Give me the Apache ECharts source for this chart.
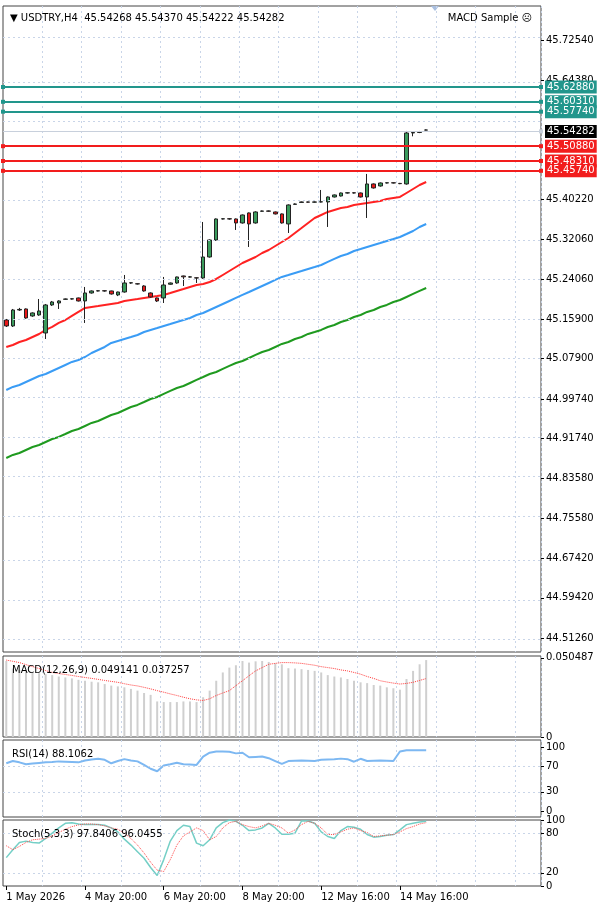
<!DOCTYPE html>
<html>
<head>
<meta charset="utf-8">
<script src="https://cdn.jsdelivr.net/npm/echarts@6/dist/echarts.min.js"></script>
<style>
  html, body { margin: 0; padding: 0; background: #fff; }
  #container { width: 600px; height: 902px; }
</style>
</head>
<body>
<div id="container"></div>
<script>
// candles: [open, close, low, high]
var candles = [
  [45.1576, 45.1454, 45.1434, 45.1596], [45.1454, 45.1778, 45.1434, 45.1799], [45.1778, 45.1790, 45.1760, 45.1820],
  [45.1799, 45.1616, 45.1600, 45.1810], [45.1657, 45.1718, 45.1640, 45.1730], [45.1677, 45.1758, 45.1660, 45.2001],
  [45.1312, 45.1880, 45.1190, 45.1900], [45.1880, 45.1941, 45.1860, 45.1961], [45.1920, 45.1961, 45.1799, 45.1975],
  [45.1995, 45.2001, 45.1985, 45.2010], [45.2001, 45.2005, 45.1990, 45.2015], [45.2022, 45.1961, 45.1950, 45.2030],
  [45.1961, 45.2123, 45.1515, 45.2245], [45.2123, 45.2164, 45.2110, 45.2175], [45.2164, 45.2168, 45.2155, 45.2178],
  [45.2168, 45.2164, 45.2150, 45.2178], [45.2164, 45.2103, 45.2090, 45.2170], [45.2083, 45.2143, 45.2060, 45.2150],
  [45.2143, 45.2326, 45.2130, 45.2488], [45.2326, 45.2330, 45.2310, 45.2340], [45.2310, 45.2306, 45.2295, 45.2320],
  [45.2265, 45.2164, 45.2150, 45.2280], [45.2123, 45.2042, 45.2030, 45.2135], [45.2022, 45.1961, 45.1941, 45.2030],
  [45.2022, 45.2285, 45.1920, 45.2448], [45.2300, 45.2326, 45.2290, 45.2335], [45.2326, 45.2448, 45.2310, 45.2455],
  [45.2468, 45.2450, 45.2265, 45.2475], [45.2445, 45.2450, 45.2435, 45.2465], [45.2430, 45.2427, 45.2326, 45.2440],
  [45.2427, 45.2853, 45.2410, 45.3563], [45.2853, 45.3198, 45.2840, 45.3210], [45.3198, 45.3624, 45.3180, 45.3635],
  [45.3624, 45.3628, 45.3615, 45.3635], [45.3628, 45.3624, 45.3610, 45.3640], [45.3624, 45.3543, 45.3401, 45.3635],
  [45.3543, 45.3705, 45.3530, 45.3715], [45.3746, 45.3523, 45.3056, 45.3755], [45.3543, 45.3766, 45.3530, 45.3780],
  [45.3780, 45.3786, 45.3770, 45.3795], [45.3786, 45.3782, 45.3770, 45.3795], [45.3766, 45.3726, 45.3715, 45.3775],
  [45.3726, 45.3543, 45.3530, 45.3735], [45.3523, 45.3908, 45.3340, 45.3920], [45.3920, 45.3928, 45.3915, 45.3940],
  [45.3960, 45.3969, 45.3955, 45.3978], [45.3969, 45.3965, 45.3955, 45.3975], [45.3965, 45.3969, 45.3955, 45.3978],
  [45.3969, 45.3972, 45.3960, 45.4212], [45.3969, 45.4070, 45.3462, 45.4080], [45.4070, 45.4111, 45.4060, 45.4120],
  [45.4090, 45.4151, 45.4080, 45.4160], [45.4151, 45.4155, 45.4140, 45.4165], [45.4155, 45.4151, 45.4140, 45.4165],
  [45.4151, 45.4070, 45.4060, 45.4160], [45.4070, 45.4334, 45.3644, 45.4537], [45.4334, 45.4253, 45.4240, 45.4345],
  [45.4293, 45.4354, 45.4280, 45.4365], [45.4354, 45.4358, 45.4345, 45.4365], [45.4358, 45.4354, 45.4345, 45.4365],
  [45.4345, 45.4340, 45.4330, 45.4355], [45.4334, 45.5368, 45.4320, 45.5409], [45.5368, 45.5378, 45.5300, 45.5400],
  [45.5378, 45.5395, 45.5365, 45.5409], [45.54268, 45.54282, 45.54222, 45.54370]
];

var maRed = [45.1028, 45.1068, 45.1129, 45.1169, 45.1230, 45.1291, 45.1373, 45.1434, 45.1515, 45.1575,
  45.1657, 45.1738, 45.1819, 45.1839, 45.1859, 45.1880, 45.1900, 45.1920, 45.1961, 45.1981,
  45.2001, 45.2022, 45.2042, 45.2062, 45.2083, 45.2123, 45.2164, 45.2204, 45.2245, 45.2285,
  45.2305, 45.2346, 45.2407, 45.2488, 45.2569, 45.2650, 45.2731, 45.2792, 45.2853, 45.2934,
  45.2995, 45.3076, 45.3157, 45.3238, 45.3340, 45.3441, 45.3543, 45.3644, 45.3705, 45.3766,
  45.3807, 45.3847, 45.3867, 45.3908, 45.3928, 45.3948, 45.3969, 45.3989, 45.4029, 45.4050,
  45.4070, 45.4151, 45.4232, 45.4313, 45.4374];

var maBlue = [45.0156, 45.0217, 45.0257, 45.0318, 45.0379, 45.0440, 45.0480, 45.0541, 45.0602, 45.0663,
  45.0724, 45.0764, 45.0825, 45.0906, 45.0967, 45.1028, 45.1109, 45.1150, 45.1190, 45.1230,
  45.1271, 45.1332, 45.1373, 45.1413, 45.1454, 45.1494, 45.1535, 45.1575, 45.1616, 45.1677,
  45.1717, 45.1778, 45.1839, 45.1900, 45.1961, 45.2022, 45.2083, 45.2143, 45.2204, 45.2265,
  45.2326, 45.2387, 45.2448, 45.2488, 45.2529, 45.2569, 45.2610, 45.2650, 45.2691, 45.2752,
  45.2813, 45.2873, 45.2914, 45.2975, 45.3015, 45.3056, 45.3097, 45.3137, 45.3178, 45.3218,
  45.3259, 45.3319, 45.3380, 45.3461, 45.3522];

var maGreen = [44.8777, 44.8838, 44.8878, 44.8939, 44.9000, 44.9040, 44.9101, 44.9162, 44.9203, 44.9263,
  44.9324, 44.9365, 44.9426, 44.9487, 44.9527, 44.9588, 44.9649, 44.9689, 44.9750, 44.9811,
  44.9852, 44.9912, 44.9973, 45.0014, 45.0075, 45.0136, 45.0196, 45.0237, 45.0298, 45.0359,
  45.0419, 45.0480, 45.0521, 45.0582, 45.0643, 45.0703, 45.0744, 45.0805, 45.0866, 45.0926,
  45.0967, 45.1028, 45.1089, 45.1129, 45.1190, 45.1230, 45.1292, 45.1332, 45.1373, 45.1433,
  45.1474, 45.1535, 45.1575, 45.1636, 45.1677, 45.1738, 45.1778, 45.1839, 45.1880, 45.1940,
  45.1981, 45.2042, 45.2103, 45.2164, 45.2224];

var macdHist = [0.0485, 0.0437, 0.0428, 0.0422, 0.0416, 0.0407, 0.0401, 0.0395, 0.0386, 0.0380,
  0.0374, 0.0365, 0.0359, 0.0353, 0.0349, 0.0338, 0.0328, 0.0323, 0.0317, 0.0307,
  0.0296, 0.0281, 0.0269, 0.0227, 0.0223, 0.0223, 0.0223, 0.0227, 0.0227, 0.0223,
  0.0254, 0.0296, 0.0359, 0.0412, 0.0443, 0.0458, 0.0485, 0.0475, 0.0483, 0.0485,
  0.0479, 0.0470, 0.0464, 0.0439, 0.0437, 0.0433, 0.0428, 0.0422, 0.0412, 0.0395,
  0.0386, 0.0380, 0.0370, 0.0359, 0.0349, 0.0344, 0.0332, 0.0328, 0.0317, 0.0311,
  0.0302, 0.0370, 0.0422, 0.0464, 0.0491];

var macdSignal = [0.0491, 0.0483, 0.0475, 0.0462, 0.0449, 0.0437, 0.0424, 0.0412, 0.0405, 0.0399,
  0.0393, 0.0386, 0.0380, 0.0374, 0.0368, 0.0361, 0.0355, 0.0349, 0.0340, 0.0332,
  0.0326, 0.0317, 0.0307, 0.0296, 0.0286, 0.0275, 0.0265, 0.0254, 0.0244, 0.0237,
  0.0233, 0.0244, 0.0265, 0.0281, 0.0296, 0.0328, 0.0359, 0.0391, 0.0422, 0.0443,
  0.0464, 0.0470, 0.0475, 0.0475, 0.0473, 0.0470, 0.0464, 0.0458, 0.0449, 0.0443,
  0.0437, 0.0428, 0.0422, 0.0412, 0.0401, 0.0386, 0.0374, 0.0359, 0.0351, 0.0344,
  0.0338, 0.0342, 0.0349, 0.0361, 0.0373];

var rsi = [74.5, 78, 76, 73, 74, 75, 76, 76.5, 77.5, 77,
  76.5, 76, 79, 80.5, 81.5, 80, 74.5, 78, 81, 79,
  77.5, 72, 66, 62, 71, 73, 75.5, 73, 72.5, 72,
  85, 91, 93, 93, 92.5, 90, 91, 84, 84.5, 85,
  82.5, 78, 73.5, 78, 78.5, 79, 78.5, 78, 80, 80.5,
  81, 81.8, 81, 77, 81.5, 78, 78.5, 79, 78.5, 78,
  93, 95, 95, 95, 95];

var stochMain = [43, 55, 66, 68, 66, 65, 72, 80, 88, 95,
  96, 94, 93, 93, 93, 92, 88, 82, 71, 62,
  52, 42, 28, 16, 40, 68, 84, 92, 90, 65,
  61, 70, 88, 96, 100, 98, 92, 84, 85, 88,
  95, 88, 78.5, 78.5, 80, 98.5, 98.5, 95, 82, 75,
  72, 84, 90, 89, 86, 78, 74, 75, 77, 78,
  85, 93, 95, 97, 98];

var stochSignal = [61, 55, 60, 66, 70, 71, 72, 76, 81, 86,
  90, 92.5, 94, 94, 93, 91, 88, 86, 80, 72,
  62, 50, 36, 24, 22, 40, 62, 76, 82, 88,
  84, 70, 75, 88, 96, 98, 93, 90, 88, 91,
  95, 92, 88, 80, 85, 93, 98, 95, 88, 78,
  78, 82, 86, 88, 84, 81, 75, 76, 77, 78,
  82, 87, 90, 94, 96];

var priceTicks = [45.7254, 45.6438, 45.4022, 45.3206, 45.2406, 45.1590, 45.0790, 44.9974,
  44.9174, 44.8358, 44.7558, 44.6742, 44.5942, 44.5126];
var priceGrid = [45.7254, 45.6438, 45.5630, 45.4822, 45.4022, 45.3206, 45.2406, 45.1590, 45.0790,
  44.9974, 44.9174, 44.8358, 44.7558, 44.6742, 44.5942, 44.5126];
var tealLevels = [45.6288, 45.6031, 45.5774];
var redLevels = [45.5088, 45.4831, 45.4574];
var lastPrice = 45.54282;

var dateIdx = [0, 12, 24, 36, 48, 60];
var dateTxt = ['1 May 2026', '4 May 20:00', '6 May 20:00', '8 May 20:00', '12 May 16:00', '14 May 16:00'];

var nCats = 82;
var cats = [];
for (var i = 0; i < nCats; i++) cats.push(String(i));

var FONT = 'DejaVu Sans';
var gridColor = '#c9d5e8';
var gridDash = [2, 3];

var myChart = echarts.init(document.getElementById('container'));

function boxLine(v, col, lineCol, width) {
  return {
    yAxis: v,
    lineStyle: { color: lineCol, width: width, type: 'solid' },
    label: { show: true, position: 'end', distance: 4, formatter: v.toFixed(5),
      backgroundColor: col, color: '#fff', fontSize: 10, fontFamily: FONT, padding: [2, 2, 1, 2] }
  };
}

var boxes = [];
tealLevels.forEach(function (v) { boxes.push(boxLine(v, '#22968c', '#22968c', 2)); });
redLevels.forEach(function (v) { boxes.push(boxLine(v, '#f21d1d', '#f21d1d', 2)); });
var lp = boxLine(lastPrice, '#000', '#c8d0dc', 1);
lp.symbol = 'none';
boxes.push(lp);

function xAx(gi, showLabels) {
  return {
    type: 'category', gridIndex: gi, data: cats, boundaryGap: true,
    axisLine: { show: false },
    axisTick: showLabels ? { show: true, alignWithLabel: true, length: 4, lineStyle: { color: '#000' },
      interval: function (idx) { return dateIdx.indexOf(idx) >= 0; } } : { show: false },
    axisLabel: showLabels ? {
      show: true, fontSize: 10, fontFamily: FONT, color: '#000', align: 'left', margin: 6,
      interval: function (idx) { return dateIdx.indexOf(idx) >= 0; },
      formatter: function (val, idx) { var k = dateIdx.indexOf(idx); return k >= 0 ? dateTxt[k] : ''; }
    } : { show: false },
    splitLine: { show: true, lineStyle: { color: gridColor, type: gridDash },
      interval: function (idx) { return idx > 0 && idx % 6 === 0; } }
  };
}

function yAx(gi, min, max, ticks, fmt) {
  return {
    type: 'value', gridIndex: gi, position: 'right', min: min, max: max, scale: true,
    axisLine: { show: false },
    splitLine: { show: false },
    axisTick: { show: true, customValues: ticks, length: 3, lineStyle: { color: '#000' } },
    axisLabel: { show: true, customValues: ticks, fontSize: 10, fontFamily: FONT, color: '#000', margin: 5,
      formatter: fmt }
  };
}

function hGrid(vals) {
  return {
    silent: true, symbol: 'none', label: { show: false },
    lineStyle: { color: gridColor, type: gridDash, width: 1 },
    data: vals.map(function (v) { return { yAxis: v }; })
  };
}

function txt(t, left, top, right) {
  var o = { text: t, top: top, textStyle: { fontSize: 10, fontWeight: 'normal', fontFamily: FONT, color: '#000' } };
  if (right !== undefined) o.right = right; else o.left = left;
  return o;
}

var option = {
  backgroundColor: '#fff',
  animation: false,
  title: [
    txt('\u25BC USDTRY,H4  45.54268 45.54370 45.54222 45.54282', 5, 8),
    txt('MACD Sample \u2639', 0, 8, 63),
    txt('MACD(12,26,9) 0.049141 0.037257', 7, 660),
    txt('RSI(14) 88.1062', 7, 744),
    txt('Stoch(5,3,3) 97.8406 96.0455', 7, 824)
  ],
  graphic: [{
    type: 'polygon', shape: { points: [[431, 6], [439, 6], [435, 11]] }, style: { fill: '#a9bfe0' }
  }],
  grid: [
    { left: 3, right: 59, top: 6, height: 646, show: true, borderColor: '#444', borderWidth: 1 },
    { left: 3, right: 59, top: 656, height: 81, show: true, borderColor: '#444', borderWidth: 1 },
    { left: 3, right: 59, top: 740, height: 77, show: true, borderColor: '#444', borderWidth: 1 },
    { left: 3, right: 59, top: 820, height: 67, show: true, borderColor: '#444', borderWidth: 1 }
  ],
  xAxis: [xAx(0, false), xAx(1, false), xAx(2, false), xAx(3, true)],
  yAxis: [
    yAx(0, 44.4842, 45.7943, priceTicks, function (v) { return v.toFixed(5); }),
    yAx(1, 0, 0.0517, [0, 0.050487], function (v) { return v === 0 ? '0' : '0.050487'; }),
    yAx(2, -9.4, 110.9, [0, 30, 70, 100], function (v) { return String(Math.round(v)); }),
    yAx(3, 0, 100, [0, 20, 80, 100], function (v) { return String(Math.round(v)); })
  ],
  series: [
    { type: 'line', xAxisIndex: 0, yAxisIndex: 0, data: maGreen, symbol: 'none', z: 2,
      lineStyle: { color: '#1f9a1f', width: 2 }, markLine: hGrid(priceGrid) },
    { type: 'line', xAxisIndex: 0, yAxisIndex: 0, data: maBlue, symbol: 'none', z: 2,
      lineStyle: { color: '#3a9cf5', width: 2 } },
    { type: 'line', xAxisIndex: 0, yAxisIndex: 0, data: maRed, symbol: 'none', z: 2,
      lineStyle: { color: '#ff2222', width: 2 } },
    { type: 'candlestick', xAxisIndex: 0, yAxisIndex: 0, data: candles, barWidth: 4, z: 3,
      itemStyle: { color: '#3a9b5c', color0: '#e81818', borderColor: '#222', borderColor0: '#222', borderWidth: 1 },
      markLine: { silent: true, symbol: ['rect', 'rect'], symbolSize: 4, data: boxes } },
    { type: 'bar', xAxisIndex: 1, yAxisIndex: 1, data: macdHist, barWidth: 2,
      itemStyle: { color: '#cfcfcf' } },
    { type: 'line', xAxisIndex: 1, yAxisIndex: 1, data: macdSignal, symbol: 'none',
      lineStyle: { color: '#ff3b3b', width: 1, type: 'dotted' } },
    { type: 'line', xAxisIndex: 2, yAxisIndex: 2, data: rsi, symbol: 'none',
      lineStyle: { color: '#7db8f2', width: 2 }, markLine: hGrid([70, 30]) },
    { type: 'line', xAxisIndex: 3, yAxisIndex: 3, data: stochMain, symbol: 'none',
      lineStyle: { color: '#74cfc6', width: 1.5 }, markLine: hGrid([80, 20]) },
    { type: 'line', xAxisIndex: 3, yAxisIndex: 3, data: stochSignal, symbol: 'none',
      lineStyle: { color: '#ff4a4a', width: 1, type: 'dotted' } }
  ]
};

myChart.setOption(option);
</script>
</body>
</html>
